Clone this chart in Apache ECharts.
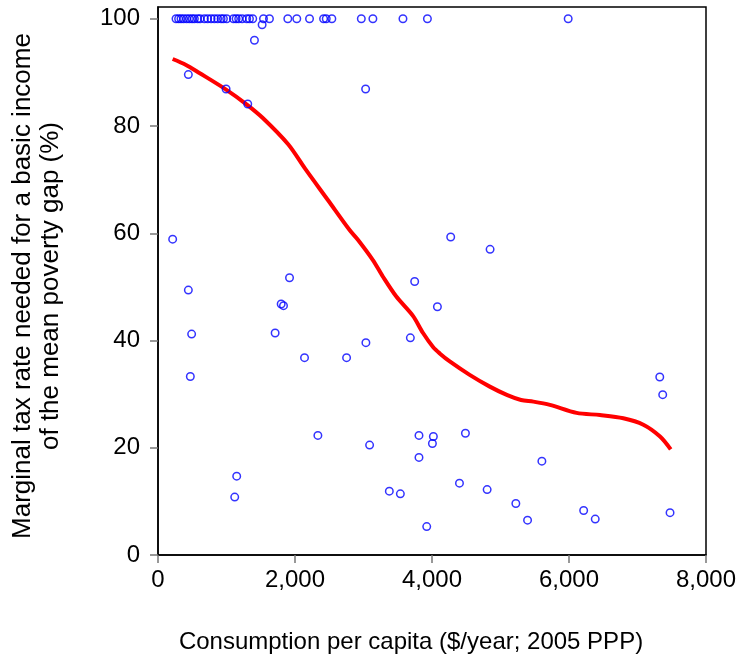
<!DOCTYPE html>
<html>
<head>
<meta charset="utf-8">
<script src="https://cdn.jsdelivr.net/npm/echarts@6/dist/echarts.min.js"></script>
<style>html,body{margin:0;padding:0;background:#fff}#chart{width:740px;height:667px}</style>
</head>
<body>
<div id="chart"></div>
<script>
// Scatter: consumption per capita ($/year) vs marginal tax rate (%)
var consumption = [263, 301, 336, 374, 418, 458, 497, 531, 579, 614, 677, 725, 775, 823, 871, 921, 955, 1003, 1101, 1140, 1178, 1228, 1295, 1335, 1383, 1540, 1627, 1895, 2026, 2212, 2417, 2456, 2538, 2968, 3137, 3576, 3933, 5988,
  1520, 1408, 443, 994, 1310, 3031, 214, 443, 491, 472, 1920, 1798, 1832, 1710, 2139, 2753, 3035, 3747, 4079, 3684, 4273, 4848, 7325, 7368,
  2334, 3089, 3810, 4020, 4006, 3810, 1149, 1120, 3377, 3538, 3923, 4488, 4401, 4805, 5604, 5224, 5395, 6214, 6383, 7475];
var taxRate = [100, 100, 100, 100, 100, 100, 100, 100, 100, 100, 100, 100, 100, 100, 100, 100, 100, 100, 100, 100, 100, 100, 100, 100, 100, 100, 100, 100, 100, 100, 100, 100, 100, 100, 100, 100, 100, 100,
  98.9, 96.0, 89.6, 86.9, 84.1, 86.9, 58.9, 49.4, 41.2, 33.3, 51.7, 46.8, 46.5, 41.4, 36.8, 36.8, 39.6, 51.0, 46.3, 40.5, 59.3, 57.0, 33.2, 29.9,
  22.3, 20.5, 22.3, 22.1, 20.8, 18.2, 14.7, 10.8, 11.9, 11.4, 5.3, 22.7, 13.4, 12.2, 17.5, 9.6, 6.5, 8.3, 6.7, 7.9];

// Smoothed (lowess) fit
var curveX = [214, 409, 604, 994, 1287, 1530, 1900, 2150, 2480, 2797, 2918, 3137, 3284, 3479, 3722, 3869, 4015, 4113, 4259, 4550, 4844, 5100, 5300, 5480, 5721, 6111, 6452, 6793, 7085, 7329, 7485];
var curveY = [92.5, 91.4, 89.9, 86.8, 84.1, 81.5, 76.6, 72.0, 66.2, 60.6, 58.8, 55.0, 51.9, 48.2, 44.6, 41.4, 38.8, 37.6, 36.1, 33.6, 31.4, 29.8, 28.9, 28.6, 28.0, 26.5, 26.1, 25.5, 24.3, 22.1, 19.7];

var xTicks = [0, 2000, 4000, 6000, 8000];
var yTicks = [0, 20, 40, 60, 80, 100];

var xTitle = 'Consumption per capita ($/year; 2005 PPP)';
var yTitle = 'Marginal tax rate needed for a basic income\nof the mean poverty gap (%)';

var FONT = '"Liberation Sans", Arial, sans-serif';

var chart = echarts.init(document.getElementById('chart'), null, {renderer: 'canvas'});
chart.setOption({
  animation: false,
  backgroundColor: '#fff',
  grid: {left: 158, right: 34, top: 7, bottom: 112, show: true, borderColor: '#000', borderWidth: 1.5, backgroundColor: 'transparent'},
  xAxis: {
    type: 'value', min: 0, max: 8000, interval: 2000,
    name: xTitle, nameLocation: 'middle', nameGap: 75,
    nameTextStyle: {fontFamily: FONT, fontSize: 24, color: '#000', padding: [0, 42, 0, 0]},
    axisLine: {show: true, onZero: false, lineStyle: {color: '#000', width: 1.5}},
    axisTick: {show: true, inside: false, length: 8, lineStyle: {color: '#777', width: 1.5}, customValues: xTicks},
    axisLabel: {fontFamily: FONT, fontSize: 24, color: '#000', margin: 13, customValues: xTicks,
      formatter: function (v) { return Number(v).toLocaleString('en-US'); }},
    splitLine: {show: false}
  },
  yAxis: {
    type: 'value', min: 0, max: 102.2, interval: 20,
    name: yTitle, nameLocation: 'middle', nameGap: 93, nameRotate: 90,
    nameTextStyle: {fontFamily: FONT, fontSize: 26, color: '#000', lineHeight: 28, align: 'center', padding: [0, 10, 0, 0]},
    axisLine: {show: true, onZero: false, lineStyle: {color: '#000', width: 1.5}},
    axisTick: {show: true, inside: false, length: 8, lineStyle: {color: '#777', width: 1.5}, customValues: yTicks},
    axisLabel: {fontFamily: FONT, fontSize: 24, color: '#000', margin: 18, customValues: yTicks},
    splitLine: {show: false}
  },
  series: [
    {
      type: 'line', z: 2,
      data: curveX.map(function (x, i) { return [x, curveY[i]]; }),
      smooth: 0.3, showSymbol: false, symbol: 'none',
      lineStyle: {color: '#ff0000', width: 4}
    },
    {
      type: 'scatter', z: 3,
      data: consumption.map(function (x, i) { return [x, taxRate[i]]; }),
      symbol: 'circle', symbolSize: 7.5,
      itemStyle: {color: 'rgba(0,0,0,0)', borderColor: '#0000ff', borderWidth: 1.5}
    }
  ]
});
</script>
</body>
</html>
